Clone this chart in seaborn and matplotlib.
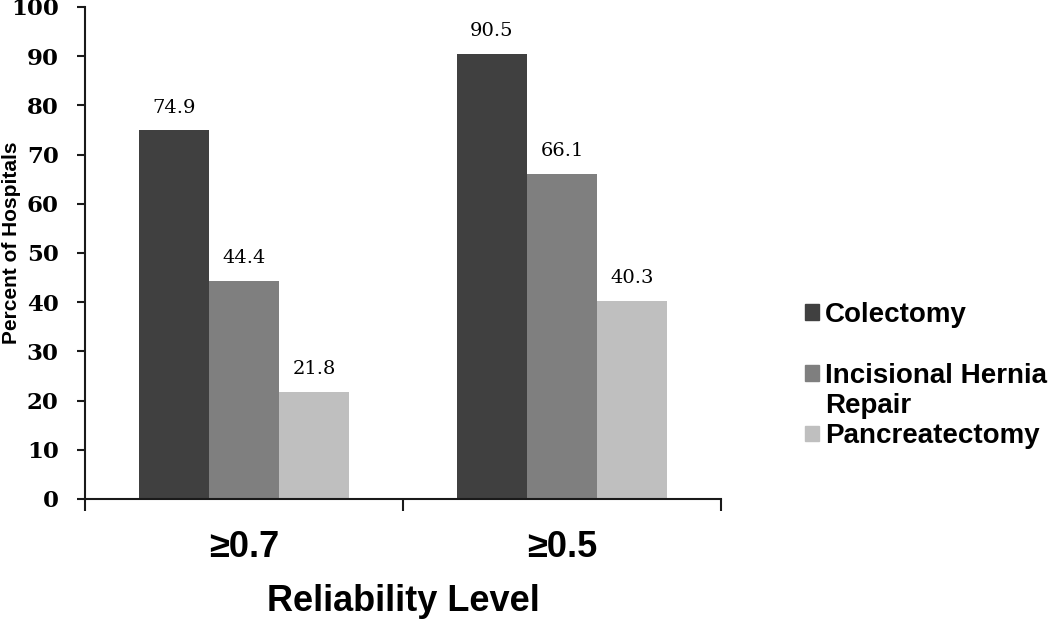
import pandas as pd
import seaborn as sns
import matplotlib.pyplot as plt

# Chart data
LEVELS = ['≥0.7', '≥0.5']
PROCEDURES = ['Colectomy', 'Incisional Hernia Repair', 'Pancreatectomy']
COLECTOMY = [74.9, 90.5]
HERNIA = [44.4, 66.1]
PANCREAS = [21.8, 40.3]
YTICKS = [0, 10, 20, 30, 40, 50, 60, 70, 80, 90, 100]

COLORS = ['#404040', '#7f7f7f', '#bfbfbf']


def build_frame():
    # Long form table for seaborn
    rows = []
    for proc, vals in zip(PROCEDURES, [COLECTOMY, HERNIA, PANCREAS]):
        for lvl, v in zip(LEVELS, vals):
            rows.append({'level': lvl, 'procedure': proc, 'pct': v})
    return pd.DataFrame(rows)


def main():
    df = build_frame()

    sns.set_style('white')
    plt.rcParams['text.color'] = 'black'
    plt.rcParams['axes.labelcolor'] = 'black'
    plt.rcParams['xtick.color'] = 'black'
    plt.rcParams['ytick.color'] = 'black'

    fig = plt.figure(figsize=(10.5, 6.21), dpi=100)
    ax = fig.add_axes([0.081, 0.1965, 0.6057, 0.7923])

    sns.barplot(data=df, x='level', y='pct', hue='procedure',
                order=LEVELS, hue_order=PROCEDURES, palette=COLORS,
                saturation=1, width=0.663, edgecolor='none', linewidth=0,
                legend=False, ax=ax)

    # Value labels above bars
    for container in ax.containers:
        ax.bar_label(container, fmt='%.1f', padding=10,
                     fontsize=14, family='DejaVu Serif', color='black')

    ax.set_xlim(-0.5, 1.5)
    ax.set_ylim(0, 100)
    ax.set_yticks(YTICKS)
    ax.set_yticklabels([str(t) for t in YTICKS],
                       fontsize=16.5, fontweight='bold', family='DejaVu Serif')
    ax.tick_params(axis='y', direction='out', length=6, width=1.5,
                   pad=13, left=True, color='#1a1a1a')

    # Category labels in the middle, tick marks at group boundaries
    ax.set_xticks([0, 1])
    ax.set_xticklabels(LEVELS, fontsize=26, fontweight='bold',
                       family='Liberation Sans')
    ax.tick_params(axis='x', which='major', length=0, pad=22)
    ax.set_xticks([-0.5, 0.5, 1.5], minor=True)
    ax.tick_params(axis='x', which='minor', direction='out', length=8.5,
                   width=1.5, bottom=True, color='#1a1a1a')

    sns.despine(ax=ax)
    for side in ['left', 'bottom']:
        ax.spines[side].set_linewidth(1.5)
        ax.spines[side].set_color('#1a1a1a')

    ax.set_xlabel('Reliability Level', fontsize=26, fontweight='bold',
                  family='Liberation Sans')
    ax.xaxis.set_label_coords(0.5, -0.173)
    ax.set_ylabel('Percent of Hospitals', fontsize=15, fontweight='bold',
                  family='Liberation Sans')
    ax.yaxis.set_label_coords(-0.1, 0.52)

    # Legend on the right; long label wraps onto a second line
    handles = [plt.Rectangle((0, 0), 1, 1, color=c) for c in COLORS]
    leg_labels = ['Colectomy', 'Incisional Hernia', 'Pancreatectomy']
    fig.legend(handles, leg_labels, loc='upper left',
               bbox_to_anchor=(805 / 1050, 1 - 302 / 621),
               frameon=False, borderpad=0, borderaxespad=0,
               handlelength=0.5, handleheight=0.5, handletextpad=0.22,
               labelspacing=1.25,
               prop={'family': 'Liberation Sans', 'weight': 'bold', 'size': 20})
    fig.text(825 / 1050, 1 - 406 / 621, 'Repair', ha='left', va='center',
             fontsize=20, fontweight='bold', family='Liberation Sans')

    fig.savefig('out.png', dpi=100)
    plt.close(fig)


if __name__ == "__main__":
    main()
